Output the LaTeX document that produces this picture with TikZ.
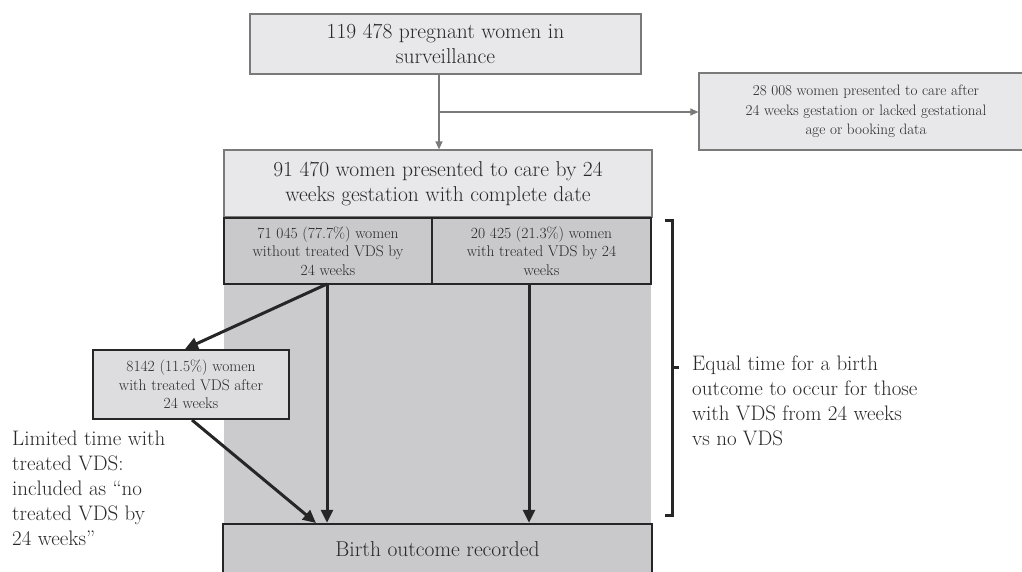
\documentclass[tikz,border=0pt]{standalone}
\usetikzlibrary{arrows.meta}
\definecolor{lightbox}{HTML}{E8E8EA}
\definecolor{midbox}{HTML}{C9C9CB}
\definecolor{region}{HTML}{CBCBCD}
\definecolor{sidebox}{HTML}{DDDDDF}
\definecolor{thinline}{HTML}{7A7A7A}
\definecolor{thickline}{HTML}{262626}
\definecolor{txt}{HTML}{282828}
\tikzset{
  x=1pt, y=-1pt,
  every node/.style={text=txt, inner sep=0pt},
  lightnode/.style={draw=thinline, line width=1.2pt, fill=lightbox, align=center,
    font=\fontsize{21.5}{25}\selectfont},
  smallnode/.style={draw=thinline, line width=1.2pt, fill=lightbox, align=center,
    font=\fontsize{15.1}{19.5}\selectfont},
  darknode/.style={draw=thickline, line width=2.5pt, fill=midbox, align=center,
    font=\fontsize{15.5}{18.5}\selectfont},
  thinarrow/.style={draw=thinline, line width=1.2pt, -{Triangle[length=8pt,width=7pt]}},
  thickarrow/.style={draw=thickline, line width=3pt, -{Triangle[length=13pt,width=12pt]}},
  plaintext/.style={align=left, font=\fontsize{21}{25}\selectfont},
}
\begin{document}
\begin{tikzpicture}
\useasboundingbox (0,0) rectangle (1022,571);
% gray background region
\fill[region] (224,217) rectangle (651,525);

\node[lightnode, minimum width=391, minimum height=60] (top) at (445.5,44)
  {119 478 pregnant women in\\surveillance};
\node[smallnode, minimum width=334, minimum height=77] (excl) at (866,111.5)
  {28 008 women presented to care after\\24 weeks gestation or lacked gestational\\age or booking data};
\node[lightnode, minimum width=428, minimum height=67] (early) at (438,183.5)
  {91 470 women presented to care by 24\\weeks gestation with complete date};

\node[darknode, minimum width=208, minimum height=66] (novds) at (328,251)
  {71 045 (77.7\%) women\\without treated VDS by\\24 weeks};
\node[darknode, minimum width=219, minimum height=66] (vds) at (541.5,251)
  {20 425 (21.3\%) women\\with treated VDS by 24\\weeks};
\node[darknode, fill=sidebox, minimum width=196, minimum height=69] (late) at (191,384.5)
  {8142 (11.5\%) women\\with treated VDS after\\24 weeks};
\node[darknode, fill=midbox, minimum width=429, minimum height=50,
  font=\fontsize{21.5}{25}\selectfont] (birth) at (437.5,549)
  {Birth outcome recorded};

% thin connectors
\draw[thinarrow] (top.south -| 439,0) -- (early.north -| 439,0);
\coordinate (split) at (439,112);
\draw[thinarrow] (split) -- (excl.west |- split);

% thick connectors
\coordinate (aout) at (327,284);
\draw[thickarrow] (aout) -- (185,349);
\draw[thickarrow] (aout) -- (birth.north -| aout);
\draw[thickarrow] (192,420) -- (316,523);
\draw[thickarrow] (vds.south -| 529,0) -- (birth.north -| 529,0);

% bracket
\draw[thickline, line width=3pt] (665,220) -- (672,220) -- (672,515) -- (665,515);
\draw[thickline, line width=3pt] (672,367) -- (679,367);

\node[plaintext, anchor=north west] (equal) at (692,356)
  {Equal time for a birth\\outcome to occur for those\\with VDS from 24 weeks\\vs no VDS};
\node[plaintext, anchor=north west] (limited) at (12,431)
  {Limited time with\\treated VDS:\\included as ``no\\treated VDS by\\24 weeks''};
\end{tikzpicture}
\end{document}
